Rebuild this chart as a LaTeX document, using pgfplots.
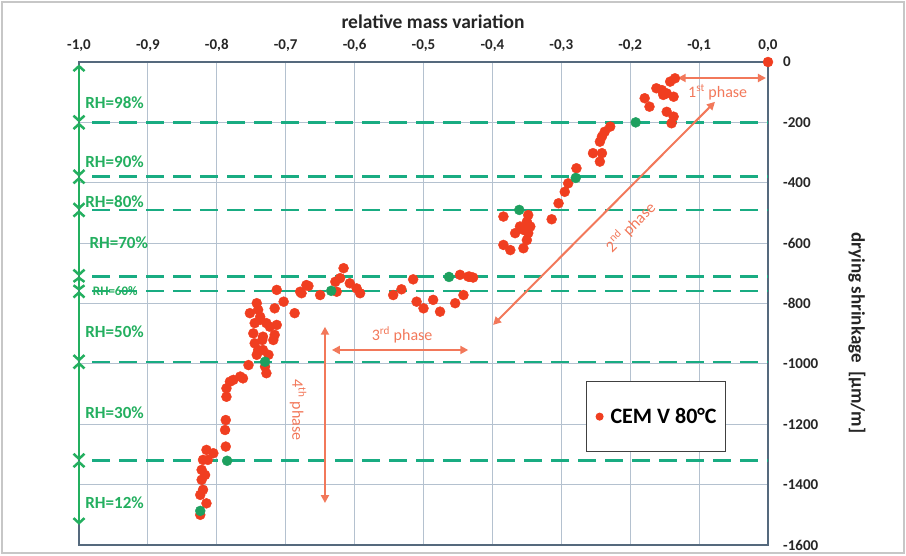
\documentclass[border=0pt]{standalone}
\usepackage{pgfplots}
\pgfplotsset{compat=1.18}
\usepackage{fontspec}
\setmainfont{Carlito}
\usetikzlibrary{arrows.meta}
\definecolor{ptred}{RGB}{240,62,32}
\definecolor{ptgreen}{RGB}{30,160,95}
\definecolor{rhgreen}{RGB}{35,175,95}
\definecolor{dashgreen}{RGB}{25,172,130}
\definecolor{phase}{RGB}{242,120,90}
\definecolor{gridc}{RGB}{180,193,207}
\definecolor{axc}{RGB}{85,105,125}

\begin{document}
\begin{tikzpicture}
\useasboundingbox (0,0) rectangle (906pt,555pt);
\draw[line width=1.5pt, black!22] (2pt,2pt) rectangle (904pt,553pt);
\begin{axis}[
  at={(79pt,10pt)}, anchor=south west,
  scale only axis, width=689pt, height=483pt,
  xmin=-1, xmax=0, ymin=-1600, ymax=0,
  xtick={-1,-0.9,-0.8,-0.7,-0.6,-0.5,-0.4,-0.3,-0.2,-0.1,0},
  xticklabels={{-1,0},{-0,9},{-0,8},{-0,7},{-0,6},{-0,5},{-0,4},{-0,3},{-0,2},{-0,1},{0,0}},
  ytick={-1600,-1400,-1200,-1000,-800,-600,-400,-200,0},
  yticklabels={-1600,-1400,-1200,-1000,-800,-600,-400,-200,0},
  xticklabel pos=upper, yticklabel pos=right,
  major tick length=0pt,
  grid=major, major grid style={gridc, line width=1pt},
  axis line style={axc, line width=1.3pt},
  ticklabel style={font=\fontsize{15}{16}\selectfont\bfseries, text=black!85},
  xticklabel style={anchor=south, inner sep=0pt, yshift=10pt},
  yticklabel style={anchor=west, inner sep=0pt, xshift=15pt},
  clip=false,
  legend style={at={(0.736,0.340)}, anchor=north west, draw=black!75, line width=1pt,
    font=\fontsize{22}{24}\selectfont\bfseries, inner xsep=7pt, inner ysep=25pt},
  legend cell align=left,
  legend image code/.code={\path[draw=none] (0,0) -- (0.3em+12pt,0); \fill[ptred] (0.3em+3pt,0) circle (3.5pt);},
]
% RH boundaries
\foreach \yy in {-200,-380,-490,-710,-758,-993,-1320} {
  \edef\tmp{\noexpand\draw[dashgreen, line width=2.5pt, dash pattern=on 18pt off 9pt]
    (axis cs:-0.981,\yy) -- (axis cs:0,\yy);}\tmp
}
\draw[rhgreen, line width=2.5pt, {Straight Barb[length=5pt,width=11pt]}-{Straight Barb[length=5pt,width=11pt]}] (axis cs:-1,-8) -- (axis cs:-1,-200);
\draw[rhgreen, line width=2.5pt, {Straight Barb[length=5pt,width=11pt]}-{Straight Barb[length=5pt,width=11pt]}] (axis cs:-1,-200) -- (axis cs:-1,-380);
\draw[rhgreen, line width=2.5pt, {Straight Barb[length=5pt,width=11pt]}-{Straight Barb[length=5pt,width=11pt]}] (axis cs:-1,-380) -- (axis cs:-1,-490);
\draw[rhgreen, line width=2.5pt, {Straight Barb[length=5pt,width=11pt]}-{Straight Barb[length=5pt,width=11pt]}] (axis cs:-1,-490) -- (axis cs:-1,-710);
\draw[rhgreen, line width=2.5pt, {Straight Barb[length=4pt,width=11pt]}-{Straight Barb[length=4pt,width=11pt]}] (axis cs:-1,-710) -- (axis cs:-1,-758);
\draw[rhgreen, line width=2.5pt, {Straight Barb[length=5pt,width=11pt]}-{Straight Barb[length=5pt,width=11pt]}] (axis cs:-1,-758) -- (axis cs:-1,-993);
\draw[rhgreen, line width=2.5pt, {Straight Barb[length=5pt,width=11pt]}-{Straight Barb[length=5pt,width=11pt]}] (axis cs:-1,-993) -- (axis cs:-1,-1320);
\draw[rhgreen, line width=2.5pt, {Straight Barb[length=5pt,width=11pt]}-{Straight Barb[length=5pt,width=11pt]}] (axis cs:-1,-1320) -- (axis cs:-1,-1533);
\begin{scope}[every node/.style={anchor=west, text=rhgreen, font=\fontsize{17}{18}\selectfont\bfseries, inner sep=0pt}]
\node at (axis cs:-0.991,-136) {RH=98\%};
\node at (axis cs:-0.991,-331) {RH=90\%};
\node at (axis cs:-0.991,-464) {RH=80\%};
\node at (axis cs:-0.985,-600) {RH=70\%};
\node[font=\fontsize{13}{14}\selectfont\bfseries] at (axis cs:-0.980,-758) {RH=60\%};
\node at (axis cs:-0.991,-894) {RH=50\%};
\node at (axis cs:-0.991,-1162) {RH=30\%};
\node at (axis cs:-0.991,-1461) {RH=12\%};
\end{scope}
% phases
\begin{scope}[phase, line width=2pt, >={Triangle[length=8pt,width=8pt]}]
\draw[<->] (axis cs:-0.131,-53) -- (axis cs:-0.003,-53);
\draw[<->] (axis cs:-0.077,-132) -- (axis cs:-0.399,-871);
\draw[<->] (axis cs:-0.633,-954) -- (axis cs:-0.435,-954);
\draw[<->] (axis cs:-0.643,-877) -- (axis cs:-0.643,-1461);
\end{scope}
\begin{scope}[every node/.style={text=phase, font=\fontsize{16}{17}\selectfont}]
\node at (axis cs:-0.073,-99) {1\textsuperscript{st} phase};
\node[rotate=45] at (axis cs:-0.200,-546) {2\textsuperscript{nd} phase};
\node at (axis cs:-0.531,-904) {3\textsuperscript{rd} phase};
\node[rotate=-90] at (axis cs:-0.682,-1153) {4\textsuperscript{th} phase};
\end{scope}
\addplot[only marks, mark=*, mark size=5pt, ptred] coordinates {
(0.000,0)
(-0.135,-54) (-0.142,-65) (-0.162,-87) (-0.154,-93) (-0.147,-104) (-0.137,-115)
(-0.152,-109) (-0.179,-120) (-0.172,-148) (-0.147,-165) (-0.137,-181) (-0.140,-203)
(-0.229,-214) (-0.237,-231) (-0.241,-247) (-0.244,-264) (-0.254,-302) (-0.241,-302)
(-0.244,-330) (-0.278,-352) (-0.290,-402) (-0.295,-430) (-0.304,-468) (-0.314,-521)
(-0.384,-512) (-0.348,-507) (-0.350,-529) (-0.355,-556) (-0.367,-567) (-0.348,-567)
(-0.350,-590) (-0.355,-617) (-0.384,-606) (-0.374,-623) (-0.360,-545) (-0.345,-545)
(-0.447,-705) (-0.435,-711) (-0.428,-714) (-0.433,-711) (-0.442,-772) (-0.454,-799)
(-0.476,-827) (-0.486,-788) (-0.500,-816) (-0.510,-794) (-0.515,-720) (-0.532,-753)
(-0.544,-772) (-0.616,-683) (-0.621,-716) (-0.628,-728) (-0.607,-733) (-0.597,-750)
(-0.592,-766) (-0.626,-761) (-0.650,-772) (-0.667,-742) (-0.677,-766) (-0.687,-832)
(-0.670,-739) (-0.679,-761) (-0.703,-794) (-0.713,-755) (-0.716,-816)
(-0.742,-799) (-0.752,-832) (-0.737,-844) (-0.745,-865) (-0.728,-865) (-0.713,-871)
(-0.747,-899) (-0.733,-910) (-0.716,-904) (-0.745,-932) (-0.733,-954) (-0.725,-970)
(-0.742,-970) (-0.730,-1009) (-0.728,-1031) (-0.754,-1004) (-0.723,-877) (-0.718,-921)
(-0.737,-854) (-0.740,-821) (-0.734,-921) (-0.740,-954)
(-0.762,-1048) (-0.776,-1053) (-0.766,-1042) (-0.781,-1059) (-0.786,-1081) (-0.786,-1109)
(-0.787,-1186) (-0.788,-1219) (-0.787,-1274) (-0.805,-1296) (-0.815,-1285) (-0.820,-1318)
(-0.822,-1351) (-0.822,-1384) (-0.820,-1417) (-0.815,-1462) (-0.824,-1500) (-0.817,-1368)
(-0.813,-1318) (-0.824,-1434)
};
\addlegendentry{CEM V 80°C}
\addplot[only marks, mark=*, mark size=5pt, ptgreen, forget plot] coordinates {
(-0.192,-200) (-0.279,-384) (-0.361,-490) (-0.463,-712) (-0.634,-758) (-0.730,-993) (-0.785,-1321) (-0.824,-1487)
};
\end{axis}
\node[font=\fontsize{19.5}{20}\selectfont\bfseries, text=black!85] at (433pt,533pt) {relative mass variation};
\node[rotate=-90, font=\fontsize{19}{20}\selectfont\bfseries, text=black!85] at (857pt,222pt) {drying shrinkage\ \ [µm/m]};
\end{tikzpicture}
\end{document}
